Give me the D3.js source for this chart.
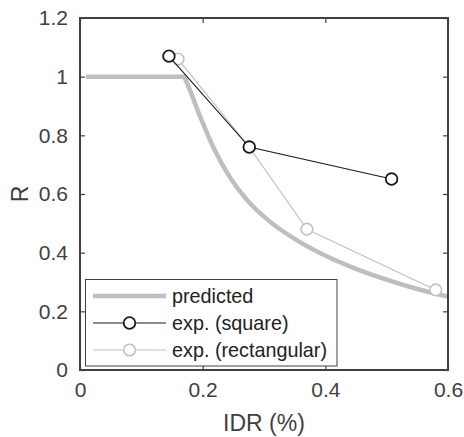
<!DOCTYPE html>
<html>
<head>
<meta charset="utf-8">
<script src="https://cdn.jsdelivr.net/npm/d3@7"></script>
<style>
  html, body { margin: 0; padding: 0; background: #fff; }
  svg { display: block; font-family: "Liberation Sans", Arial, sans-serif; }
</style>
</head>
<body>
<svg id="chart" width="464" height="437"></svg>
<script>
// ---- data ----
const predictedIDR = [0.01, 0.168, 0.178, 0.19, 0.205, 0.22, 0.245, 0.27, 0.31, 0.35, 0.41, 0.45, 0.5, 0.55, 0.6];
const predictedR   = [1.0, 1.0, 0.96, 0.895, 0.818, 0.748, 0.655, 0.585, 0.505, 0.447, 0.38, 0.345, 0.308, 0.276, 0.25];
const squareIDR = [0.145, 0.276, 0.508];
const squareR   = [1.07, 0.76, 0.651];
const rectIDR = [0.16, 0.276, 0.37, 0.58];
const rectR   = [1.06, 0.76, 0.48, 0.273];
const xTicks = [0, 0.2, 0.4, 0.6];
const xTickLabels = ["0", "0.2", "0.4", "0.6"];
const yTicks = [0, 0.2, 0.4, 0.6, 0.8, 1, 1.2];
const yTickLabels = ["0", "0.2", "0.4", "0.6", "0.8", "1", "1.2"];
const legendLabels = ["predicted", "exp. (square)", "exp. (rectangular)"];

// ---- layout ----
const L = 80, R = 448, T = 18, B = 370;
const axisColor = "#404040";
const predColor = "#bebebe";
const rectColor = "#c0c0c0";
const sqColor = "#1a1a1a";

const svg = d3.select("#chart");
const x = d3.scaleLinear().domain([0, 0.6]).range([L, R]);
const y = d3.scaleLinear().domain([0, 1.2]).range([B, T]);

const pred = predictedIDR.map((v, i) => [v, predictedR[i]]);
const sq = squareIDR.map((v, i) => [v, squareR[i]]);
const rc = rectIDR.map((v, i) => [v, rectR[i]]);

const smooth = d3.line().x(d => x(d[0])).y(d => y(d[1])).curve(d3.curveMonotoneX);
const line = d3.line().x(d => x(d[0])).y(d => y(d[1]));

svg.append("path").datum(pred).attr("d", smooth)
  .attr("fill", "none").attr("stroke", predColor).attr("stroke-width", 4.5);

svg.append("path").datum(rc).attr("d", line)
  .attr("fill", "none").attr("stroke", rectColor).attr("stroke-width", 1.1);
svg.selectAll(".rc").data(rc).enter().append("circle")
  .attr("cx", d => x(d[0])).attr("cy", d => y(d[1])).attr("r", 5.8)
  .attr("fill", "#fff").attr("stroke", rectColor).attr("stroke-width", 1.6);

svg.append("path").datum(sq).attr("d", line)
  .attr("fill", "none").attr("stroke", sqColor).attr("stroke-width", 1.1);
svg.selectAll(".sq").data(sq).enter().append("circle")
  .attr("cx", d => x(d[0])).attr("cy", d => y(d[1])).attr("r", 5.8)
  .attr("fill", "#fff").attr("stroke", sqColor).attr("stroke-width", 1.8);

// ---- axes ----
function styleAxis(g) {
  g.select(".domain").remove();
  g.selectAll(".tick line").attr("stroke", axisColor).attr("stroke-width", 1.2);
  g.selectAll(".tick text").attr("fill", axisColor).attr("font-size", 21)
    .attr("font-family", "'Liberation Sans', Arial, sans-serif");
}
const xAxis = svg.append("g").attr("transform", `translate(0,${B})`)
  .call(d3.axisBottom(x).tickValues(xTicks).tickFormat((d, i) => xTickLabels[i]).tickSizeInner(-5).tickSizeOuter(0).tickPadding(12));
styleAxis(xAxis);
const xAxisTop = svg.append("g").attr("transform", `translate(0,${T})`)
  .call(d3.axisTop(x).tickValues(xTicks).tickFormat("").tickSizeInner(-5).tickSizeOuter(0));
styleAxis(xAxisTop);
const yAxis = svg.append("g").attr("transform", `translate(${L},0)`)
  .call(d3.axisLeft(y).tickValues(yTicks).tickFormat((d, i) => yTickLabels[i]).tickSizeInner(-5).tickSizeOuter(0).tickPadding(12));
styleAxis(yAxis);
const yAxisR = svg.append("g").attr("transform", `translate(${R},0)`)
  .call(d3.axisRight(y).tickValues(yTicks).tickFormat("").tickSizeInner(-5).tickSizeOuter(0));
styleAxis(yAxisR);

// legend
const lg = svg.append("g");
lg.append("rect").attr("x", 85.5).attr("y", 279.5).attr("width", 251.5).attr("height", 86.5)
  .attr("fill", "#fff").attr("stroke", axisColor).attr("stroke-width", 1);
const rows = [296, 323, 350];
const styles = [
  {c: predColor, w: 4.5, m: false},
  {c: sqColor, w: 1.1, m: true, ms: 1.8},
  {c: rectColor, w: 1.1, m: true, ms: 1.6}
];
legendLabels.forEach((lab, i) => {
  const s = styles[i];
  lg.append("line").attr("x1", 93).attr("x2", 166).attr("y1", rows[i]).attr("y2", rows[i])
    .attr("stroke", s.c).attr("stroke-width", s.w);
  if (s.m) {
    lg.append("circle").attr("cx", 129.5).attr("cy", rows[i]).attr("r", 5.8)
      .attr("fill", "#fff").attr("stroke", s.c).attr("stroke-width", s.ms);
  }
  lg.append("text").attr("x", 172).attr("y", rows[i]).attr("dy", "0.36em")
    .attr("font-size", 19.8).attr("fill", "#222").text(lab);
});

// box
svg.append("rect").attr("x", L).attr("y", T).attr("width", R - L).attr("height", B - T)
  .attr("fill", "none").attr("stroke", axisColor).attr("stroke-width", 2);

// labels
svg.append("text").attr("x", (L + R) / 2).attr("y", 431).attr("text-anchor", "middle")
  .attr("font-size", 23).attr("fill", axisColor).text("IDR (%)");
svg.append("text").attr("transform", `translate(28,${(T + B) / 2}) rotate(-90)`)
  .attr("text-anchor", "middle").attr("font-size", 23).attr("fill", axisColor).text("R");
</script>
</body>
</html>
